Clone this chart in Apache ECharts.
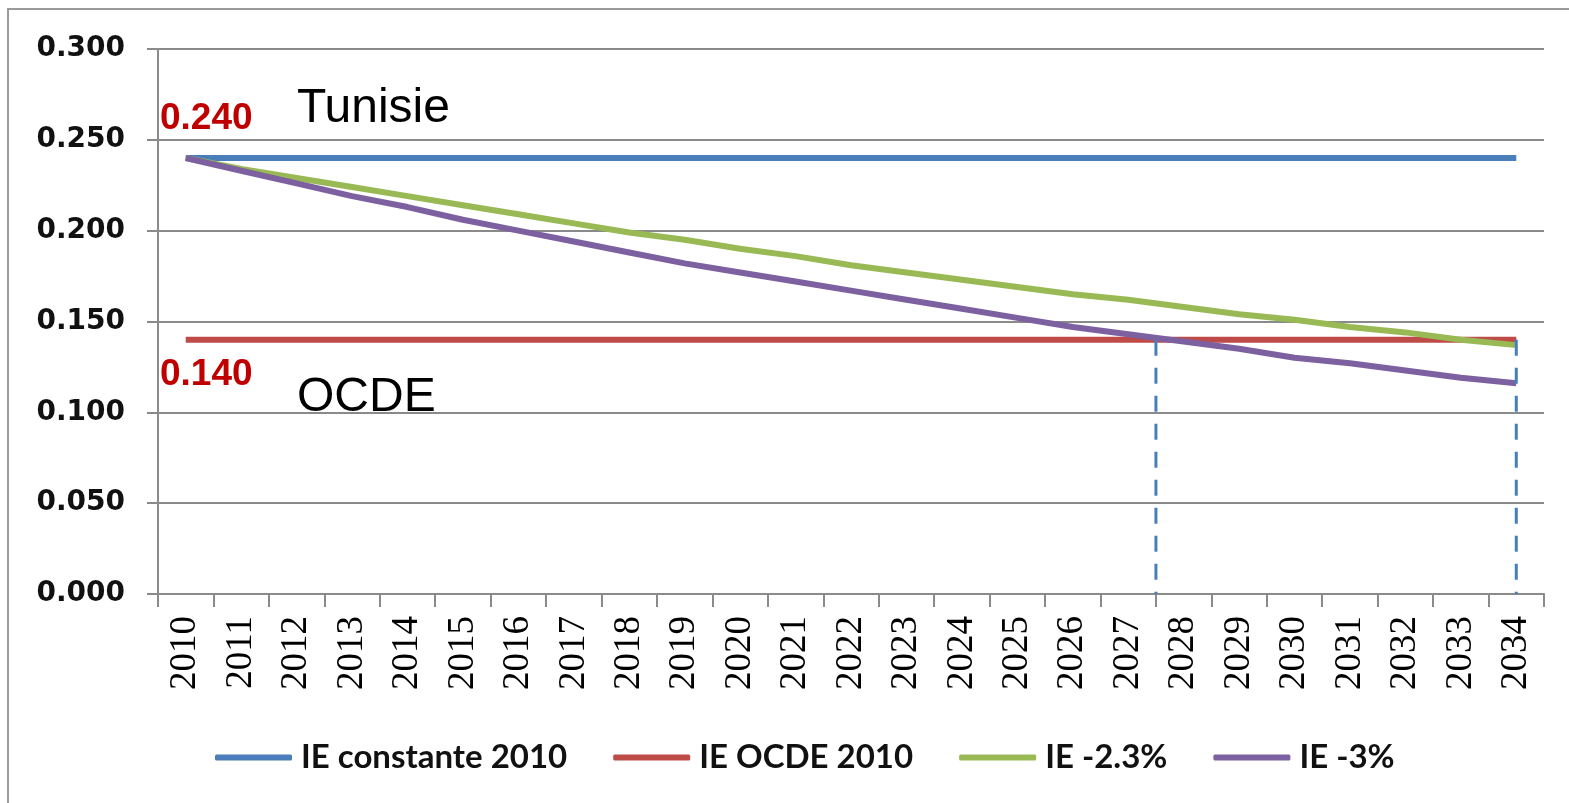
<!DOCTYPE html>
<html>
<head>
<meta charset="utf-8">
<script src="https://cdn.jsdelivr.net/npm/echarts@6/dist/echarts.min.js"></script>
<style>
html,body{margin:0;padding:0;background:#fff;}
#chart{width:1569px;height:803px;}
</style>
</head>
<body>
<div id="chart"></div>
<script>
var years = ['2010','2011','2012','2013','2014','2015','2016','2017','2018','2019','2020','2021','2022','2023','2024','2025','2026','2027','2028','2029','2030','2031','2032','2033','2034'];
var ieConstante = [0.240,0.240,0.240,0.240,0.240,0.240,0.240,0.240,0.240,0.240,0.240,0.240,0.240,0.240,0.240,0.240,0.240,0.240,0.240,0.240,0.240,0.240,0.240,0.240,0.240];
var ieOcde = [0.140,0.140,0.140,0.140,0.140,0.140,0.140,0.140,0.140,0.140,0.140,0.140,0.140,0.140,0.140,0.140,0.140,0.140,0.140,0.140,0.140,0.140,0.140,0.140,0.140];
var ie23 = [0.240,0.234,0.229,0.224,0.219,0.214,0.209,0.204,0.199,0.195,0.190,0.186,0.181,0.177,0.173,0.169,0.165,0.162,0.158,0.154,0.151,0.147,0.144,0.140,0.137];
var ie3 = [0.240,0.233,0.226,0.219,0.213,0.206,0.200,0.194,0.188,0.182,0.177,0.172,0.167,0.162,0.157,0.152,0.147,0.143,0.139,0.135,0.130,0.127,0.123,0.119,0.116];
var seriesNames = ['IE constante 2010','IE OCDE 2010','IE -2.3%','IE -3%'];
// guide lines: [x position in years, y top]
var guideA = [[2027.5,0.140],[2027.5,0]];
var guideB = [[2034,0.140],[2034,0]];

var chart = echarts.init(document.getElementById('chart'));
var lineW = 6;
chart.setOption({
  backgroundColor:'#fff',
  animation:false,
  grid:{left:158,right:25,top:49,bottom:209},
  legend:{
    data:seriesNames.map(function(n){return {name:n,icon:'roundRect'};}),
    left:210, top:736,
    itemWidth:77, itemHeight:6, itemGap:46,
    textStyle:{fontFamily:'Lato',fontWeight:'bold',fontSize:33,color:'#111',padding:[0,0,0,4]}
  },
  xAxis:[{
    type:'category', data:years, boundaryGap:true,
    axisLine:{lineStyle:{color:'#8a8a8a',width:2}},
    axisTick:{show:true,length:13,alignWithLabel:false,lineStyle:{color:'#8a8a8a',width:2}},
    axisLabel:{rotate:90,margin:22,interval:0,fontFamily:'serif',fontSize:37,color:'#000'}
  },{
    type:'value', min:2009.5, max:2034.5, show:false
  }],
  yAxis:{
    type:'value', min:0, max:0.3, interval:0.05,
    axisLine:{show:true,lineStyle:{color:'#8a8a8a',width:2}},
    axisTick:{show:true,length:11,lineStyle:{color:'#8a8a8a',width:2}},
    splitLine:{lineStyle:{color:'#8a8a8a',width:2}},
    axisLabel:{margin:33,fontFamily:'DejaVu Sans',fontWeight:'bold',fontSize:28,color:'#111',
      formatter:function(v){return v.toFixed(3);}}
  },
  series:[
    {name:seriesNames[0],type:'line',data:ieConstante,symbol:'none',lineStyle:{color:'#4A7EBB',width:lineW},itemStyle:{color:'#4A7EBB'},z:2},
    {name:seriesNames[1],type:'line',data:ieOcde,symbol:'none',lineStyle:{color:'#BE4B48',width:lineW},itemStyle:{color:'#BE4B48'},z:2},
    {name:seriesNames[2],type:'line',data:ie23,symbol:'none',lineStyle:{color:'#98B954',width:lineW},itemStyle:{color:'#98B954'},z:3},
    {name:seriesNames[3],type:'line',data:ie3,symbol:'none',lineStyle:{color:'#7D60A0',width:lineW},itemStyle:{color:'#7D60A0'},z:4},
    {name:'guideA',type:'line',xAxisIndex:1,data:guideA,symbol:'none',lineStyle:{color:'#4A7EBB',width:3,type:[16,12]},z:5},
    {name:'guideB',type:'line',xAxisIndex:1,data:guideB,symbol:'none',lineStyle:{color:'#4A7EBB',width:3,type:[16,12]},z:5}
  ],
  graphic:[
    {type:'rect',shape:{x:8,y:9,width:1600,height:900},style:{fill:'none',stroke:'#9a9a9a',lineWidth:2},silent:true},
    {type:'text',left:160,top:100,style:{text:'0.240',fill:'#C00000',font:'bold 37px "Liberation Sans"'}},
    {type:'text',left:297,top:85,style:{text:'Tunisie',fill:'#000',font:'48px "Liberation Sans"'}},
    {type:'text',left:160,top:356,style:{text:'0.140',fill:'#C00000',font:'bold 37px "Liberation Sans"'}},
    {type:'text',left:297,top:374,style:{text:'OCDE',fill:'#000',font:'48px "Liberation Sans"'}}
  ]
});
</script>
</body>
</html>
